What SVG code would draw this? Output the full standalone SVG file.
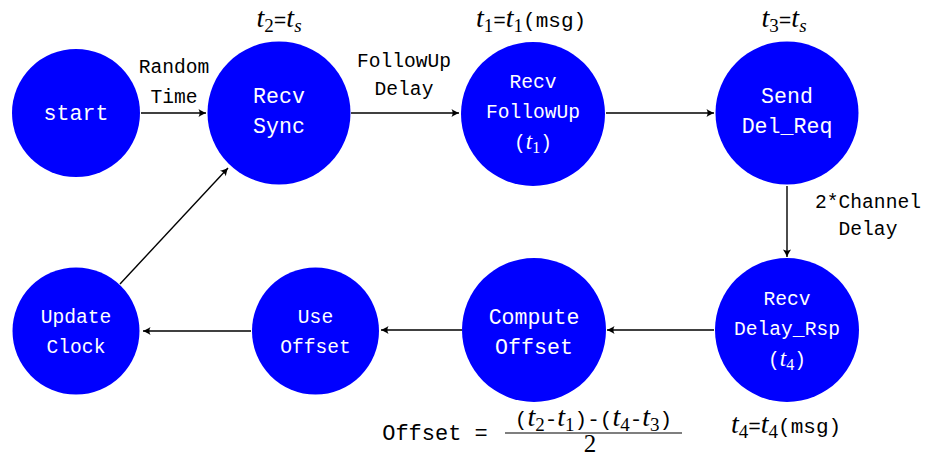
<svg xmlns="http://www.w3.org/2000/svg" width="926" height="456" viewBox="0 0 926 456">
  <style>
    .node { fill: #0000ff; }
    .nt { font-family: "Liberation Mono", "DejaVu Sans Mono", monospace; fill: #ffffff; text-anchor: middle; }
    .big { font-size: 21.6px; }
    .small { font-size: 19.6px; }
    .lbl { font-family: "Liberation Mono", "DejaVu Sans Mono", monospace; font-size: 19.6px; fill: #000; text-anchor: middle; }
    .ts { font-size: 21px; }
    .math { font-family: "Liberation Serif", "DejaVu Serif", serif; font-style: italic; font-size: 28px; }
    .sub { font-family: "Liberation Serif", "DejaVu Serif", serif; font-style: normal; font-size: 19px; }
    .msub { font-family: "Liberation Serif", "DejaVu Serif", serif; font-style: italic; font-size: 19px; }
    .nt .math { font-size: 23px; }
    .nt .sub { font-size: 16px; }
    .edge { stroke: #000; stroke-width: 1.4; fill: none; marker-end: url(#tip); }
  </style>
  <defs>
    <marker id="tip" viewBox="-8 -5 9 10" refX="0" refY="0" markerWidth="9" markerHeight="10" markerUnits="userSpaceOnUse" orient="auto">
      <path d="M0,0 C-2,-0.8 -5,-2.4 -7.5,-4 C-6,-1.5 -6,1.5 -7.5,4 C-5,2.4 -2,0.8 0,0 Z" fill="#000"/>
    </marker>
  </defs>

  <!-- connectors -->
  <g id="edges">
    <line class="edge" x1="141" y1="113" x2="206" y2="113"/>
    <line class="edge" x1="351" y1="113" x2="459" y2="113"/>
    <line class="edge" x1="606" y1="113" x2="714" y2="113"/>
    <line class="edge" x1="787" y1="186" x2="787" y2="257"/>
    <line class="edge" x1="714" y1="330" x2="607" y2="330"/>
    <line class="edge" x1="462" y1="330" x2="381" y2="330"/>
    <line class="edge" x1="251" y1="331" x2="143" y2="331"/>
    <line class="edge" x1="120" y1="284" x2="228" y2="168"/>

    <text class="lbl" x="174" y="73">Random</text>
    <text class="lbl" x="174" y="103">Time</text>
    <text class="lbl" x="404" y="67">FollowUp</text>
    <text class="lbl" x="404" y="95">Delay</text>
    <text class="lbl" x="868" y="208">2*Channel</text>
    <text class="lbl" x="868" y="235">Delay</text>
  </g>

  <!-- nodes -->
  <g id="start">
    <circle class="node" cx="76" cy="113" r="64"/>
    <text class="nt big" x="76" y="120">start</text>
  </g>
  <g id="recv-sync">
    <circle class="node" cx="279" cy="113" r="71.5"/>
    <text class="nt big" x="279" y="103">Recv</text>
    <text class="nt big" x="279" y="133">Sync</text>
  </g>
  <g id="recv-followup">
    <circle class="node" cx="533" cy="114" r="72"/>
    <text class="nt small" x="533" y="88">Recv</text>
    <text class="nt small" x="533" y="118">FollowUp</text>
    <text class="nt small" x="533" y="149">(<tspan class="math">t</tspan><tspan class="sub" dy="4">1</tspan><tspan dy="-4">)</tspan></text>
  </g>
  <g id="send-del-req">
    <circle class="node" cx="787" cy="113" r="71.5"/>
    <text class="nt big" x="787" y="103">Send</text>
    <text class="nt big" x="787" y="133">Del_Req</text>
  </g>
  <g id="recv-delay-rsp">
    <circle class="node" cx="787" cy="330" r="72"/>
    <text class="nt small" x="787" y="305">Recv</text>
    <text class="nt small" x="787" y="335">Delay_Rsp</text>
    <text class="nt small" x="787" y="366">(<tspan class="math">t</tspan><tspan class="sub" dy="4">4</tspan><tspan dy="-4">)</tspan></text>
  </g>
  <g id="compute-offset">
    <circle class="node" cx="534" cy="330" r="72"/>
    <text class="nt big" x="534" y="324">Compute</text>
    <text class="nt big" x="534" y="354">Offset</text>
  </g>
  <g id="use-offset">
    <circle class="node" cx="315.5" cy="331" r="63.5"/>
    <text class="nt small" x="315.5" y="323">Use</text>
    <text class="nt small" x="315.5" y="353">Offset</text>
  </g>
  <g id="update-clock">
    <circle class="node" cx="76" cy="331" r="63.5"/>
    <text class="nt small" x="76" y="323">Update</text>
    <text class="nt small" x="76" y="353">Clock</text>
  </g>

  <!-- timestamp annotations -->
  <g id="annotations">
    <text class="lbl ts" x="279" y="27"><tspan class="math">t</tspan><tspan class="sub" dy="5">2</tspan><tspan dy="-5">=</tspan><tspan class="math">t</tspan><tspan class="msub" dy="5">s</tspan></text>
    <text class="lbl ts" x="531" y="27"><tspan class="math">t</tspan><tspan class="sub" dy="5">1</tspan><tspan dy="-5">=</tspan><tspan class="math">t</tspan><tspan class="sub" dy="5">1</tspan><tspan dy="-5">(msg)</tspan></text>
    <text class="lbl ts" x="784" y="27"><tspan class="math">t</tspan><tspan class="sub" dy="5">3</tspan><tspan dy="-5">=</tspan><tspan class="math">t</tspan><tspan class="msub" dy="5">s</tspan></text>
    <text class="lbl ts" x="786" y="433"><tspan class="math">t</tspan><tspan class="sub" dy="5">4</tspan><tspan dy="-5">=</tspan><tspan class="math">t</tspan><tspan class="sub" dy="5">4</tspan><tspan dy="-5">(msg)</tspan></text>
  </g>

  <!-- offset formula -->
  <g id="formula">
    <text class="lbl" x="435" y="440" style="font-size:22px">Offset =</text>
    <text class="lbl ts" x="593.5" y="426">(<tspan class="math">t</tspan><tspan class="sub" dy="5">2</tspan><tspan dy="-5">-</tspan><tspan class="math">t</tspan><tspan class="sub" dy="5">1</tspan><tspan dy="-5">)-(</tspan><tspan class="math">t</tspan><tspan class="sub" dy="5">4</tspan><tspan dy="-5">-</tspan><tspan class="math">t</tspan><tspan class="sub" dy="5">3</tspan><tspan dy="-5">)</tspan></text>
    <line x1="505" y1="433" x2="682" y2="433" stroke="#000" stroke-width="1.2"/>
    <text class="sub" x="590" y="452" style="font-size:25px" text-anchor="middle" fill="#000">2</text>
  </g>
</svg>
